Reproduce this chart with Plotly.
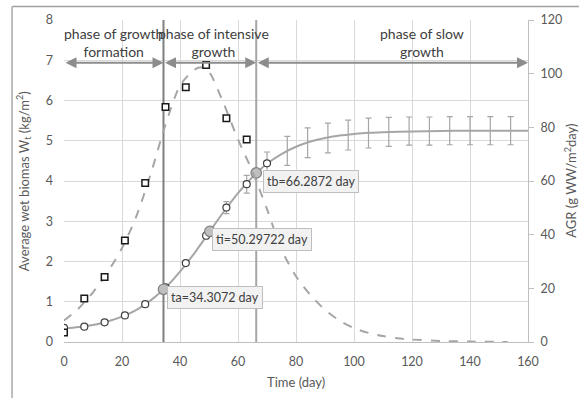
import plotly.graph_objects as go

# ---------------- data ----------------
# measured biomass W (kg/m2), open circles
w_days = [0, 7, 14, 21, 28, 35, 42, 49, 56, 63, 70]
w_vals = [0.35, 0.38, 0.49, 0.66, 0.94, 1.36, 1.96, 2.64, 3.34, 3.92, 4.44]
w_err = [0.02, 0.02, 0.02, 0.02, 0.03, 0.04, 0.05, 0.08, 0.15, 0.22, 0.28]

# later measurements shown only as error bars
late_days = [77, 84, 91, 98, 105, 112, 119, 126, 133, 140, 147, 154]
late_vals = [4.75, 4.95, 5.07, 5.14, 5.19, 5.22, 5.24, 5.24, 5.25, 5.25, 5.25, 5.25]
late_err = [0.36, 0.37, 0.37, 0.37, 0.37, 0.36, 0.35, 0.35, 0.35, 0.35, 0.35, 0.35]

# fitted biomass curve (kg/m2)
fit_days = [0, 5, 10, 15, 20, 25, 30, 35, 40, 45, 50, 55, 60, 65, 70, 75, 80, 85,
            90, 95, 100, 105, 110, 120, 130, 140, 150, 160]
fit_vals = [0.33, 0.37, 0.42, 0.51, 0.63, 0.80, 1.04, 1.35, 1.75, 2.21, 2.72, 3.23,
            3.70, 4.10, 4.43, 4.67, 4.85, 4.98, 5.07, 5.13, 5.17, 5.20, 5.21, 5.23,
            5.24, 5.25, 5.25, 5.25]

# measured AGR (g WW/m2/day), open squares
agr_days = [0, 7, 14, 21, 28, 35, 42, 49, 56, 63]
agr_vals = [3.5, 16.2, 24.2, 37.8, 59.3, 87.6, 94.9, 103.2, 83.4, 75.5]

# fitted AGR curve (g WW/m2/day)
agrfit_days = [0, 5, 10, 15, 20, 25, 30, 35, 40, 45, 48, 50, 55, 60, 65, 70, 75, 80,
               85, 90, 95, 100, 105, 110, 115, 120, 130, 140, 153]
agrfit_vals = [8, 12.5, 18.5, 26, 35, 47, 63, 81, 95.5, 101.5, 102.3, 100.8, 89, 75.5,
               63.5, 49.5, 34.5, 24.5, 17.5, 12, 8, 5.2, 3.4, 2.2, 1.4, 0.9, 0.4,
               0.15, 0.03]

# characteristic points
special_names = ["ta", "ti", "tb"]
special_days = [34.3072, 50.29722, 66.2872]
special_vals = [1.31, 2.75, 4.20]
special_labels = ["ta=34.3072 day", "ti=50.29722 day", "tb=66.2872 day"]
label_x = [52.1, 68.4, 85.2]
label_y = [1.11, 2.55, 4.0]

# phases
phase_labels = ["phase of growth<br>formation", "phase of intensive<br>growth",
                "phase of slow<br>growth"]
phase_text_x = [17.0, 51.5, 123.5]
phase_bounds = [0, special_days[0], special_days[2], 160]
arrow_level = 6.94

x_ticks = [0, 20, 40, 60, 80, 100, 120, 140, 160]

FONT = "Lato"
GRID = "#d9d9d9"
TXT = "#595959"

fig = go.Figure()

# vertical phase separators
fig.add_trace(go.Scatter(x=[special_days[0]] * 2, y=[0, 8], mode="lines",
                         line=dict(color="#7f7f7f", width=2), hoverinfo="skip",
                         showlegend=False))
fig.add_trace(go.Scatter(x=[special_days[2]] * 2, y=[0, 8], mode="lines",
                         line=dict(color="#a6a6a6", width=2), hoverinfo="skip",
                         showlegend=False))

# AGR fit (dashed, right axis)
fig.add_trace(go.Scatter(x=agrfit_days, y=agrfit_vals, yaxis="y2", mode="lines",
                         line=dict(color="#a6a6a6", width=2, dash="dash",
                                   shape="spline", smoothing=0.8),
                         showlegend=False))
# biomass fit
fig.add_trace(go.Scatter(x=fit_days, y=fit_vals, mode="lines",
                         line=dict(color="#a6a6a6", width=2, shape="spline",
                                   smoothing=0.8),
                         showlegend=False))
# late error bars
fig.add_trace(go.Scatter(x=late_days, y=late_vals, mode="markers",
                         marker=dict(size=1, color="rgba(0,0,0,0)"),
                         error_y=dict(type="data", array=late_err, color="#a6a6a6",
                                      thickness=1.2, width=3),
                         showlegend=False))
# AGR squares
fig.add_trace(go.Scatter(x=agr_days, y=agr_vals, yaxis="y2", mode="markers",
                         marker=dict(symbol="square", size=6.5, color="white",
                                     line=dict(color="#1a1a1a", width=1.5)),
                         showlegend=False))
# biomass circles
fig.add_trace(go.Scatter(x=w_days, y=w_vals, mode="markers",
                         marker=dict(symbol="circle", size=7, color="white",
                                     line=dict(color="#404040", width=1.2)),
                         error_y=dict(type="data", array=w_err, color="#a6a6a6",
                                      thickness=1.2, width=3),
                         showlegend=False))
# special points
fig.add_trace(go.Scatter(x=special_days, y=special_vals, mode="markers",
                         marker=dict(symbol="circle", size=10.5, color="#bfbfbf",
                                     line=dict(color="#7f7f7f", width=1.2)),
                         text=special_names, showlegend=False))

annotations = []
for lx, ly, lab in zip(label_x, label_y, special_labels):
    annotations.append(dict(x=lx, y=ly, xref="x", yref="y", text=lab,
                            showarrow=False, bgcolor="#f2f2f2",
                            bordercolor="#bfbfbf", borderwidth=1, borderpad=3,
                            font=dict(family=FONT, size=12.5, color="#404040")))
for px, lab in zip(phase_text_x, phase_labels):
    annotations.append(dict(x=px, y=7.45, xref="x", yref="y", text=lab,
                            showarrow=False, align="center",
                            font=dict(family=FONT, size=14, color="#404040")))
for a, b in zip(phase_bounds[:-1], phase_bounds[1:]):
    annotations.append(dict(x=b, y=arrow_level, ax=a, ay=arrow_level,
                            xref="x", yref="y", axref="x", ayref="y", text="",
                            showarrow=True, arrowhead=2, startarrowhead=2,
                            arrowside="end+start", arrowsize=1.1,
                            startarrowsize=1.1, arrowwidth=2,
                            arrowcolor="#8c8c8c", standoff=0, startstandoff=0))
# axis titles
annotations.append(dict(x=-0.088, y=0.5, xref="paper", yref="paper",
                        xanchor="center", yanchor="middle",
                        text="Average wet biomas W<sub>t</sub> (kg/m<sup>2</sup>)",
                        textangle=-90, showarrow=False,
                        font=dict(family=FONT, size=13, color=TXT)))
annotations.append(dict(x=1.09, y=0.5, xref="paper", yref="paper",
                        xanchor="center", yanchor="middle",
                        text="AGR (g WW/m<sup>2</sup>day)", textangle=-90,
                        showarrow=False, font=dict(family=FONT, size=13, color=TXT)))
annotations.append(dict(x=0.5, y=-0.123, xref="paper", yref="paper",
                        xanchor="center", yanchor="middle",
                        text="Time (day)", showarrow=False,
                        font=dict(family=FONT, size=13, color=TXT)))

shapes = [
    dict(type="line", xref="paper", yref="paper", x0=-0.112, x1=-0.112,
         y0=-0.2, y1=1.0417, line=dict(color="#7f7f7f", width=1)),
    dict(type="line", xref="paper", yref="paper", x0=-0.112, x1=1.12,
         y0=1.0417, y1=1.0417, line=dict(color="#a0a0a0", width=1.5)),
]

fig.update_layout(
    width=579, height=398,
    margin=dict(l=64, r=51, t=18, b=56),
    paper_bgcolor="white", plot_bgcolor="white",
    font=dict(family=FONT, color=TXT, size=12),
    annotations=annotations, shapes=shapes,
    xaxis=dict(range=[0, 160], tickvals=x_ticks, showgrid=True, gridcolor=GRID,
               gridwidth=1, zeroline=False, showline=True, linecolor="#bfbfbf",
               linewidth=1, ticks="", ticklabelstandoff=8,
               tickfont=dict(family=FONT, size=12.5, color=TXT)),
    yaxis=dict(range=[0, 8], dtick=1, showgrid=True, gridcolor=GRID, gridwidth=1,
               zeroline=False, showline=False, ticks="", ticklabelstandoff=10,
               tickfont=dict(family=FONT, size=12.5, color=TXT)),
    yaxis2=dict(range=[0, 120], dtick=20, overlaying="y", side="right",
                showgrid=False, zeroline=False, showline=True, linecolor="#bfbfbf",
                linewidth=1, ticks="outside", ticklen=5, tickcolor="#bfbfbf",
                ticklabelstandoff=4,
                tickfont=dict(family=FONT, size=12.5, color=TXT)),
)

fig.write_html("out.html")
